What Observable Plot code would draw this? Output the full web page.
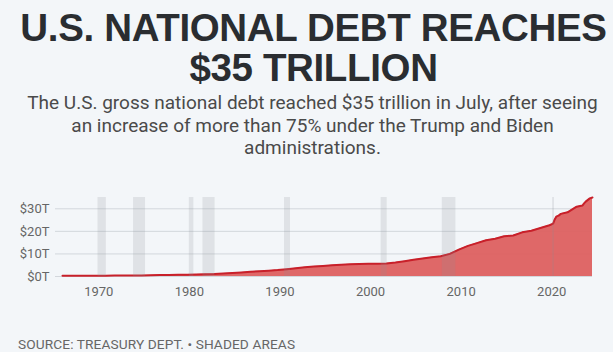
<!DOCTYPE html>
<html>
<head>
<meta charset="utf-8">
<script src="https://cdn.jsdelivr.net/npm/d3@7"></script>
<script src="https://cdn.jsdelivr.net/npm/@observablehq/plot@0.6"></script>
<style>
  html, body { margin: 0; padding: 0; background: #f3f6f9; overflow: hidden; }
  #page { position: relative; width: 613px; height: 352px; }
  h1 { position: absolute; left: 7px; top: 8px; width: 613px; margin: 0; text-align: center;
       font-family: "Liberation Sans", Arial, sans-serif; font-weight: 700; font-size: 38.5px;
       line-height: 40px; color: #2a2d31; letter-spacing: -0.35px; white-space: nowrap; }
  #sub { position: absolute; left: 6px; top: 92px; width: 613px; margin: 0; text-align: center;
       font-family: Roboto, sans-serif; font-size: 19px; line-height: 22.5px; color: #4a4a4a; white-space: nowrap; }
  #chart { position: absolute; left: 0; top: 180px; }
  #src { position: absolute; left: 18px; top: 337px; margin: 0; font-family: Roboto, sans-serif;
       font-size: 13.7px; line-height: 15px; color: #666; letter-spacing: 0.1px; }
</style>
</head>
<body>
<div id="page">
  <h1>U.S. NATIONAL DEBT REACHES<br>$35 TRILLION</h1>
  <p id="sub">The U.S. gross national debt reached $35 trillion in July, after seeing<br>an increase of more than 75% under the Trump and Biden<br>administrations.</p>
  <div id="chart"></div>
  <p id="src">SOURCE: TREASURY DEPT. • SHADED AREAS</p>
</div>
<script>
// Gross national debt, trillions of dollars (decimal year)
const years = [1966.0, 1966.75, 1967.75, 1968.75, 1969.75, 1970.75, 1971.75, 1972.75, 1973.75, 1974.75,
  1975.75, 1976.75, 1977.75, 1978.75, 1979.75, 1980.75, 1981.75, 1982.75, 1983.75, 1984.75,
  1985.75, 1986.75, 1987.75, 1988.75, 1989.75, 1990.75, 1991.75, 1992.75, 1993.75, 1994.75,
  1995.75, 1996.75, 1997.75, 1998.75, 1999.75, 2000.75, 2001.75, 2002.75, 2003.75, 2004.75,
  2005.75, 2006.75, 2007.75, 2008.75, 2009.75, 2010.75, 2011.75, 2012.75, 2013.75, 2014.75,
  2015.75, 2016.75, 2017.75, 2018.75, 2019.75, 2020.15, 2020.3, 2020.5, 2020.75, 2021.0,
  2021.75, 2022.75, 2023.4, 2023.55, 2023.75, 2024.2, 2024.5];
const debt = [0.32, 0.32, 0.33, 0.35, 0.35, 0.37, 0.40, 0.43, 0.46, 0.48,
  0.53, 0.62, 0.70, 0.77, 0.83, 0.91, 1.00, 1.14, 1.38, 1.57,
  1.82, 2.13, 2.35, 2.60, 2.86, 3.23, 3.67, 4.07, 4.41, 4.69,
  4.97, 5.22, 5.41, 5.53, 5.66, 5.67, 5.81, 6.23, 6.78, 7.38,
  7.93, 8.51, 9.01, 10.03, 11.91, 13.56, 14.79, 16.07, 16.74, 17.82,
  18.15, 19.57, 20.24, 21.52, 22.72, 23.4, 25.0, 26.5, 26.95, 27.75,
  28.43, 30.93, 31.46, 32.3, 33.17, 34.6, 35.0];

// Recessions (shaded areas), decimal years
const recStart = [1969.92, 1973.84, 1980.0, 1981.5, 1990.5, 2001.17, 2007.92, 2020.1];
const recEnd   = [1970.84, 1975.17, 1980.5, 1982.84, 1991.17, 2001.84, 2009.42, 2020.3];

const yTicks = [0, 10, 20, 30];
const xTicks = [1970, 1980, 1990, 2000, 2010, 2020];

const series = years.map((y, i) => ({year: y, debt: debt[i]}));
const recessions = recStart.map((s, i) => ({start: s, end: recEnd[i]}));

const chart = Plot.plot({
  width: 613,
  height: 125,
  marginLeft: 55,
  marginRight: 21,
  marginTop: 17,
  marginBottom: 29,
  style: {background: "transparent", fontFamily: "Roboto, sans-serif", fontSize: "13px", color: "#666"},
  x: {domain: [1966, 2024.5], insetLeft: 7, ticks: xTicks, tickFormat: d => String(d), tickSize: 0, tickPadding: 10, label: null},
  y: {domain: [0, 35], ticks: yTicks, tickFormat: d => `$${d}T`, tickSize: 0, tickPadding: 6, label: null},
  marks: [
    Plot.gridY(yTicks, {stroke: "#d3d7dc", strokeOpacity: 1, strokeWidth: 1}),
    Plot.areaY(series, {x: "year", y: "debt", fill: "#dd6060", fillOpacity: 0.95}),
    Plot.lineY(series, {x: "year", y: "debt", stroke: "#c8202a", strokeWidth: 2}),
    Plot.rectX(recessions, {x1: "start", x2: "end", fill: "#8a8f96", fillOpacity: 0.19}),
    Plot.axisX({ticks: xTicks, tickFormat: d => String(d), tickSize: 0, tickPadding: 10, fill: "#666"}),
    Plot.axisY({ticks: yTicks, tickFormat: d => `$${d}T`, tickSize: 0, tickPadding: 6, fill: "#666"})
  ]
});
document.getElementById("chart").appendChild(chart);
</script>
</body>
</html>
